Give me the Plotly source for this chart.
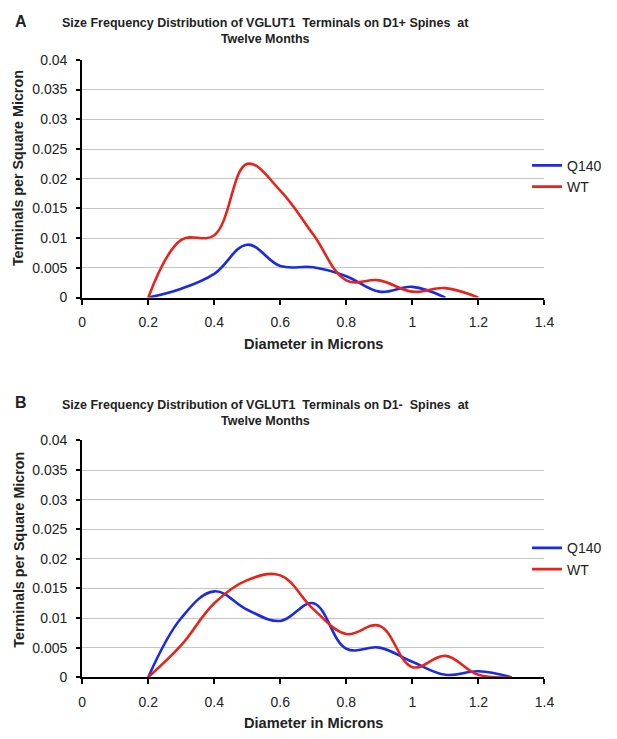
import plotly.graph_objects as go

# ---- data ----
diam_top = [0.2, 0.3, 0.4, 0.5, 0.6, 0.7, 0.8, 0.9, 1.0, 1.1]
q140_top = [0.0, 0.0015, 0.0040, 0.0089, 0.0053, 0.0051, 0.0036, 0.0010, 0.0018, 0.0]
diam_top_wt = [0.2, 0.3, 0.4, 0.5, 0.6, 0.7, 0.8, 0.9, 1.0, 1.1, 1.2]
wt_top = [0.0, 0.0097, 0.0105, 0.0225, 0.0180, 0.0106, 0.0029, 0.0029, 0.0010, 0.0016, 0.0]

diam_bot = [0.2, 0.3, 0.4, 0.5, 0.6, 0.7, 0.8, 0.9, 1.0, 1.1, 1.2, 1.3]
q140_bot = [0.0, 0.0100, 0.0145, 0.0114, 0.0095, 0.0125, 0.0048, 0.0050, 0.0026, 0.0004, 0.0010, 0.0]
wt_bot = [0.0, 0.0054, 0.0125, 0.0164, 0.0172, 0.0115, 0.0073, 0.0087, 0.0017, 0.0036, 0.0004, 0.0]

x_ticks = [0, 0.2, 0.4, 0.6, 0.8, 1.0, 1.2, 1.4]
x_tick_labels = ["0", "0.2", "0.4", "0.6", "0.8", "1", "1.2", "1.4"]
y_ticks = [0, 0.005, 0.01, 0.015, 0.02, 0.025, 0.03, 0.035, 0.04]
y_tick_labels = ["0", "0.005", "0.01", "0.015", "0.02", "0.025", "0.03", "0.035", "0.04"]

title_a = "Size Frequency Distribution of VGLUT1  Terminals on D1+ Spines  at<br>Twelve Months"
title_b = "Size Frequency Distribution of VGLUT1  Terminals on D1-  Spines  at<br>Twelve Months"
x_title = "Diameter in Microns"
y_title = "Terminals per Square Micron"

BLUE = "#1a2be0"
RED = "#e8231c"
FONT = "Liberation Sans, Arial, sans-serif"

W, H = 617, 739

def px_x(p):
    return p / W

def px_y(p):
    return 1 - p / H

fig = go.Figure()

line_kw = dict(mode="lines", line_shape="spline")
fig.add_trace(go.Scatter(x=diam_top, y=q140_top, name="Q140", line=dict(color=BLUE, width=2.6, smoothing=1.1),
                         xaxis="x", yaxis="y", legend="legend", **line_kw))
fig.add_trace(go.Scatter(x=diam_top_wt, y=wt_top, name="WT", line=dict(color=RED, width=2.6, smoothing=1.1),
                         xaxis="x", yaxis="y", legend="legend", **line_kw))
fig.add_trace(go.Scatter(x=diam_bot, y=q140_bot, name="Q140", line=dict(color=BLUE, width=2.6, smoothing=1.1),
                         xaxis="x2", yaxis="y2", legend="legend2", **line_kw))
fig.add_trace(go.Scatter(x=diam_bot, y=wt_bot, name="WT", line=dict(color=RED, width=2.6, smoothing=1.1),
                         xaxis="x2", yaxis="y2", legend="legend2", **line_kw))

xdom = [px_x(80), px_x(553)]
ydom_top = [px_y(296), px_y(53)]
ydom_bot = [px_y(684), px_y(442)]

xaxis_common = dict(
    range=[0, 1.4], domain=xdom, tickmode="array", tickvals=x_ticks, ticktext=x_tick_labels,
    showline=True, linecolor="black", linewidth=2, ticks="outside", ticklen=5, tickwidth=2,
    tickcolor="black", showgrid=False, zeroline=False, fixedrange=True,
    tickfont=dict(family=FONT, size=14, color="#222"), ticklabelstandoff=6,
)
yaxis_common = dict(
    range=[0, 0.04], tickmode="array", tickvals=y_ticks, ticktext=y_tick_labels,
    showline=True, linecolor="black", linewidth=2, ticks="outside", ticklen=4, tickwidth=2,
    tickcolor="black", showgrid=True, gridcolor="#c4c4c4", gridwidth=1, zeroline=False,
    fixedrange=True, tickfont=dict(family=FONT, size=14, color="#222"), ticklabelstandoff=6,
)

legend_common = dict(
    font=dict(family=FONT, size=14, color="#222"), bgcolor="rgba(0,0,0,0)",
    xanchor="right", yanchor="middle", itemwidth=30, tracegroupgap=0,
)

fig.update_layout(
    width=W, height=H, margin=dict(l=0, r=0, t=0, b=0),
    paper_bgcolor="white", plot_bgcolor="white",
    font=dict(family=FONT, size=14, color="#222"),
    xaxis=dict(anchor="y", **xaxis_common),
    yaxis=dict(anchor="x", domain=ydom_top, **yaxis_common),
    xaxis2=dict(anchor="y2", **xaxis_common),
    yaxis2=dict(anchor="x2", domain=ydom_bot, **yaxis_common),
    legend=dict(x=1.0, y=px_y(172), **legend_common),
    legend2=dict(x=1.0, y=px_y(563), **legend_common),
    showlegend=True,
)

ann = []
bold = dict(family=FONT, color="#222")
# panel labels
ann.append(dict(text="<b>A</b>", x=px_x(9), y=px_y(14), xanchor="left", yanchor="middle",
                font=dict(size=16, **bold)))
ann.append(dict(text="<b>B</b>", x=px_x(9), y=px_y(403), xanchor="left", yanchor="middle",
                font=dict(size=16, **bold)))
# titles
ann.append(dict(text="<b>" + title_a.replace("<br>", "</b><br><b>") + "</b>", x=px_x(268), y=px_y(23),
                xanchor="center", yanchor="middle", font=dict(size=12.5, **bold)))
ann.append(dict(text="<b>" + title_b.replace("<br>", "</b><br><b>") + "</b>", x=px_x(268), y=px_y(413.5),
                xanchor="center", yanchor="middle", font=dict(size=12.5, **bold)))
# axis titles
for yc in (164, 554):
    ann.append(dict(text="<b>" + y_title + "</b>", x=px_x(15), y=px_y(yc), textangle=-90,
                    xanchor="center", yanchor="middle", font=dict(size=14.3, **bold)))
for yc in (343, 731):
    ann.append(dict(text="<b>" + x_title + "</b>", x=px_x(317), y=px_y(yc),
                    xanchor="center", yanchor="middle", font=dict(size=14.6, **bold)))
for a in ann:
    a.update(xref="paper", yref="paper", showarrow=False)
fig.update_layout(annotations=ann)

fig.write_html(
    "out.html",
    config={"displayModeBar": False},
    post_script="document.body.style.margin='0';document.body.style.overflow='hidden';"
                "document.documentElement.style.overflow='hidden';",
)
